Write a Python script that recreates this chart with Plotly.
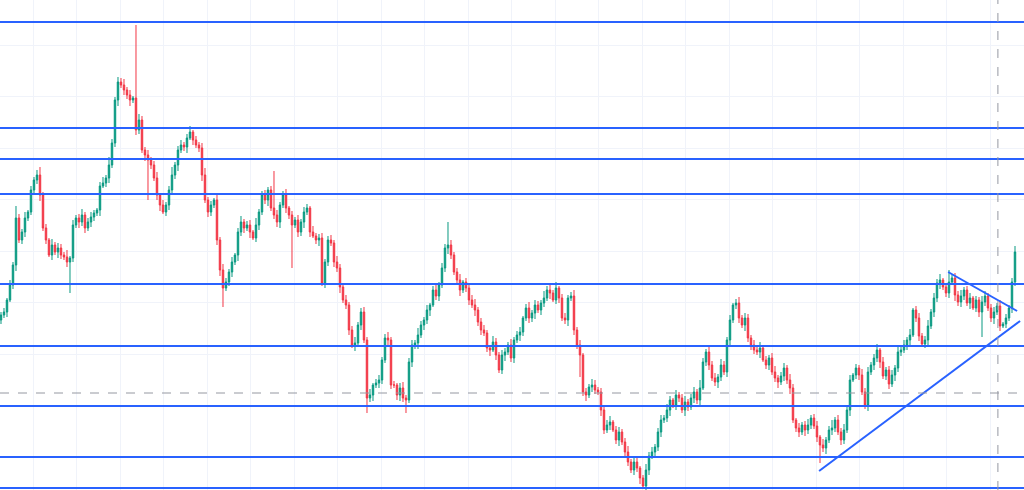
import plotly.graph_objects as go

# Close prices (one per candle, arbitrary price units)
close = [
    175, 178, 190, 205, 225, 272, 250, 258, 272, 278,
    300, 310, 315, 295, 262, 250, 235, 245, 238, 242,
    235, 233, 228, 232, 265, 272, 268, 275, 262, 268,
    273, 277, 280, 304, 307, 312, 325, 347, 390, 408,
    405, 400, 395, 390, 392, 360, 370, 340, 335, 330,
    325, 312, 295, 285, 278, 285, 300, 315, 325, 340,
    345, 343, 352, 358, 350, 345, 342, 315, 290, 278,
    285, 290, 250, 220, 202, 208, 218, 228, 235, 258,
    268, 262, 265, 258, 252, 265, 278, 295, 290, 300,
    282, 275, 268, 285, 295, 282, 275, 265, 270, 258,
    268, 278, 282, 258, 254, 250, 252, 207, 228, 250,
    247, 228, 222, 203, 190, 185, 160, 145, 147, 165,
    178, 150, 92, 95, 105, 107, 110, 130, 152, 150,
    105, 105, 95, 102, 92, 90, 128, 145, 147, 155,
    165, 170, 180, 185, 200, 194, 205, 222, 242, 245,
    235, 218, 210, 200, 208, 202, 190, 185, 180, 168,
    160, 157, 142, 140, 148, 135, 120, 135, 138, 145,
    132, 150, 155, 158, 172, 182, 172, 177, 185, 180,
    187, 192, 200, 197, 190, 202, 192, 172, 170, 192,
    194, 160, 145, 135, 98, 95, 103, 105, 100, 98,
    80, 60, 65, 68, 60, 50, 58, 48, 38, 28,
    20, 28, 22, 12, 4, 20, 34, 38, 43, 58,
    70, 72, 80, 90, 85, 95, 92, 80, 88, 83,
    92, 98, 90, 102, 128, 138, 125, 112, 108, 113,
    125, 118, 150, 170, 185, 187, 172, 165, 172, 152,
    145, 140, 138, 142, 130, 125, 132, 118, 112, 108,
    114, 122, 110, 102, 70, 62, 58, 65, 60, 65,
    72, 64, 53, 45, 42, 50, 60, 62, 70, 58,
    50, 60, 80, 110, 115, 122, 115, 98, 85, 118,
    125, 132, 140, 128, 114, 120, 106, 115, 122, 138,
    140, 145, 150, 155, 180, 172, 154, 146, 150, 164,
    178, 192, 207, 210, 203, 197, 208, 212, 195, 188,
    194, 200, 187, 192, 182, 190, 178, 188, 194, 182,
    172, 178, 184, 164, 166, 172, 182, 208, 238,
]
first_open = 170

# Wick extents above / below the body
wick_up = [
    3, 4, 2, 5, 3, 12, 4, 3, 6, 2,
    4, 3, 5, 8, 3, 4, 2, 6, 3, 5,
    4, 3, 7, 2, 5, 3, 4, 6, 3, 4,
    5, 3, 2, 4, 6, 3, 8, 4, 3, 5,
    4, 6, 3, 5, 2, 73, 6, 4, 3, 5,
    3, 4, 6, 2, 5, 3, 4, 8, 3, 4,
    5, 3, 4, 6, 2, 4, 3, 5, 7, 3,
    4, 2, 5, 3, 6, 4, 3, 5, 2, 4,
    6, 3, 4, 5, 2, 7, 3, 4, 5, 3,
    4, 37, 5, 3, 4, 6, 2, 4, 3, 5,
    3, 5, 4, 2, 6, 3, 4, 5, 3, 4,
    5, 3, 6, 4, 2, 5, 3, 4, 6, 3,
    4, 5, 3, 6, 2, 4, 5, 3, 4, 6,
    3, 4, 2, 5, 6, 3, 4, 5, 3, 7,
    4, 3, 5, 2, 4, 6, 3, 5, 4, 23,
    5, 3, 4, 6, 2, 4, 3, 5, 6, 3,
    4, 5, 3, 2, 6, 4, 3, 5, 4, 3,
    6, 3, 4, 5, 2, 4, 6, 3, 5, 4,
    3, 7, 4, 5, 3, 6, 2, 4, 5, 3,
    4, 6, 3, 5, 2, 4, 3, 6, 5, 3,
    4, 3, 5, 6, 2, 4, 5, 3, 4, 6,
    3, 5, 4, 2, 3, 6, 4, 5, 3, 4,
    5, 3, 6, 4, 2, 5, 3, 4, 6, 3,
    4, 5, 3, 8, 4, 3, 6, 4, 5, 3,
    6, 4, 3, 5, 2, 4, 6, 3, 5, 4,
    3, 5, 4, 6, 2, 4, 3, 5, 6, 3,
    4, 5, 3, 6, 4, 2, 5, 3, 4, 6,
    3, 4, 5, 2, 6, 3, 4, 8, 3, 5,
    4, 6, 3, 5, 2, 4, 3, 6, 4, 5,
    3, 4, 6, 2, 5, 3, 4, 5, 3, 6,
    4, 5, 3, 6, 2, 4, 5, 3, 4, 6,
    3, 5, 4, 6, 2, 4, 12, 3, 5, 4,
    6, 3, 4, 5, 2, 4, 3, 6, 5, 3,
    4, 5, 3, 6, 2, 4, 3, 4, 6,
]
wick_dn = [
    4, 3, 5, 2, 4, 6, 3, 4, 5, 3,
    3, 5, 4, 6, 3, 4, 2, 5, 3, 6,
    4, 3, 5, 31, 4, 3, 6, 4, 5, 3,
    5, 4, 3, 6, 2, 4, 5, 3, 4, 6,
    3, 5, 4, 6, 3, 5, 4, 3, 6, 40,
    4, 3, 5, 6, 2, 4, 5, 3, 4, 6,
    3, 4, 6, 2, 5, 3, 4, 6, 3, 5,
    4, 3, 5, 6, 19, 3, 4, 5, 3, 6,
    4, 5, 3, 6, 2, 4, 5, 3, 4, 6,
    3, 4, 5, 6, 3, 5, 4, 43, 3, 5,
    4, 6, 3, 5, 2, 4, 6, 3, 5, 4,
    3, 5, 4, 6, 3, 4, 5, 3, 6, 4,
    5, 3, 15, 4, 6, 3, 5, 4, 3, 6,
    4, 3, 5, 6, 4, 13, 3, 5, 4, 6,
    3, 5, 4, 6, 2, 4, 5, 3, 4, 6,
    4, 3, 5, 6, 3, 4, 5, 3, 6, 4,
    5, 3, 4, 6, 2, 5, 3, 4, 6, 3,
    4, 5, 3, 6, 4, 3, 5, 4, 6, 3,
    5, 4, 3, 6, 2, 4, 5, 3, 4, 6,
    3, 5, 4, 22, 4, 6, 3, 5, 4, 3,
    6, 4, 3, 5, 2, 4, 6, 3, 5, 4,
    3, 5, 4, 6, 2, 4, 5, 3, 6, 4,
    5, 3, 4, 6, 3, 5, 4, 3, 6, 4,
    3, 5, 4, 6, 2, 4, 5, 3, 4, 6,
    4, 3, 5, 6, 3, 4, 5, 3, 6, 4,
    5, 4, 3, 6, 2, 4, 5, 3, 4, 6,
    3, 5, 4, 6, 3, 4, 5, 3, 6, 4,
    4, 3, 5, 18, 4, 6, 3, 5, 4, 3,
    5, 4, 3, 6, 2, 4, 5, 3, 4, 6,
    3, 5, 4, 6, 3, 4, 5, 3, 6, 4,
    4, 3, 5, 6, 2, 4, 5, 3, 4, 6,
    3, 5, 4, 6, 3, 4, 5, 3, 6, 4,
    5, 4, 3, 6, 2, 4, 5, 25, 4, 3,
    4, 6, 3, 5, 2, 4, 3, 5, 4,
]

# Horizontal support / resistance levels
levels = [468, 362, 331, 296, 206, 144, 84, 33, 2]
# Trend lines: (start index, start price, end index, end price)
trend_up = [272.7, 19, 339.7, 169]
trend_down = [315.7, 218, 338.7, 179]
# Crosshair position
cross_x = 332.3
cross_y = 97

n = len(close)
idx = list(range(n))
opens = [first_open] + close[:-1]
highs = [max(o, c) + w for o, c, w in zip(opens, close, wick_up)]
lows = [min(o, c) - w for o, c, w in zip(opens, close, wick_dn)]

GREEN = "#089981"
RED = "#F23645"
BLUE = "#2962FF"

fig = go.Figure()
fig.add_trace(go.Candlestick(
    x=idx, open=opens, high=highs, low=lows, close=close,
    increasing=dict(line=dict(color=GREEN, width=1), fillcolor=GREEN),
    decreasing=dict(line=dict(color=RED, width=1), fillcolor=RED),
    whiskerwidth=0, showlegend=False, hoverinfo="skip",
))

for lv in levels:
    fig.add_shape(type="line", xref="paper", x0=0, x1=1, yref="y", y0=lv, y1=lv,
                  line=dict(color=BLUE, width=2))

for t in (trend_up, trend_down):
    fig.add_shape(type="line", xref="x", yref="y", x0=t[0], y0=t[1], x1=t[2], y1=t[3],
                  line=dict(color=BLUE, width=2))

fig.add_shape(type="line", xref="paper", x0=0, x1=1, yref="y", y0=cross_y, y1=cross_y,
              line=dict(color="#9598A1", width=1, dash="dash"))
fig.add_shape(type="line", xref="x", x0=cross_x, x1=cross_x, yref="paper", y0=0, y1=1,
              line=dict(color="#9598A1", width=1, dash="dash"))

fig.update_layout(
    width=1024, height=490,
    margin=dict(l=0, r=0, t=0, b=0),
    plot_bgcolor="white", paper_bgcolor="white",
    xaxis=dict(range=[-0.33, 341.0], rangeslider=dict(visible=False),
               showticklabels=False, zeroline=False, showline=False,
               tickmode="linear", tick0=10.67, dtick=14.5,
               gridcolor="#F0F3FA", gridwidth=1),
    yaxis=dict(range=[0, 490], showticklabels=False, zeroline=False, showline=False,
               tickmode="linear", tick0=33, dtick=51.5,
               gridcolor="#F0F3FA", gridwidth=1),
)

fig.write_html("out.html", config={"displayModeBar": False},
               post_script="document.body.style.margin='0';document.body.style.overflow='hidden';")
